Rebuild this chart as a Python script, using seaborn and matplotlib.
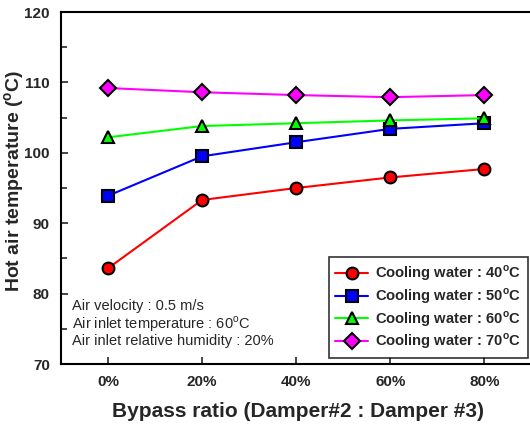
import matplotlib
matplotlib.use("Agg")
import matplotlib.pyplot as plt
import seaborn as sns
import pandas as pd
from matplotlib.ticker import MultipleLocator

# data
bypass = [0, 20, 40, 60, 80]
tick_labels = ["0%", "20%", "40%", "60%", "80%"]
cw40 = [83.6, 93.3, 95.0, 96.5, 97.7]
cw50 = [93.9, 99.5, 101.5, 103.4, 104.2]
cw60 = [102.2, 103.8, 104.2, 104.6, 104.9]
cw70 = [109.2, 108.6, 108.2, 107.9, 108.2]

series = {
    "Cooling water : 40$^\\mathbf{o}$C": cw40,
    "Cooling water : 50$^\\mathbf{o}$C": cw50,
    "Cooling water : 60$^\\mathbf{o}$C": cw60,
    "Cooling water : 70$^\\mathbf{o}$C": cw70,
}
colors = ["#ff0000", "#0000ff", "#00ff00", "#ff00ff"]
markers = ["o", "s", "^", "D"]
msizes = [8.5, 8, 8.5, 8]

rows = []
for name, vals in series.items():
    for b, v in zip(bypass, vals):
        rows.append({"Bypass": b, "Temp": v, "Series": name})
df = pd.DataFrame(rows)

sns.set_style("white")
plt.rcParams["font.family"] = ["Liberation Sans", "DejaVu Sans"]
plt.rcParams["mathtext.fontset"] = "custom"
plt.rcParams["mathtext.rm"] = "Liberation Sans"
plt.rcParams["mathtext.bf"] = "Liberation Sans:bold"

fig = plt.figure(figsize=(5.30, 4.28), dpi=100)
ax = fig.add_axes([61 / 530, 1 - 364 / 428, 475 / 530, 352 / 428])

for (name, vals), c, m, ms in zip(series.items(), colors, markers, msizes):
    sub = df[df["Series"] == name]
    sns.lineplot(data=sub, x="Bypass", y="Temp", ax=ax, color=c, marker=m,
                 markersize=ms, markeredgecolor="black",
                 markeredgewidth=1.5, linewidth=1.5, label=name)

ax.set_xlim(-10, 91)
ax.set_ylim(70, 120)
ax.set_xticks(bypass)
ax.set_xticklabels(tick_labels, fontweight="bold", fontsize=11)
ax.yaxis.set_major_locator(MultipleLocator(10))
ax.yaxis.set_minor_locator(MultipleLocator(5))
for lab in ax.get_yticklabels():
    lab.set_fontweight("bold")
    lab.set_fontsize(11)
ax.tick_params(axis="both", which="major", direction="in", length=5, width=1.2, pad=8)
ax.tick_params(axis="y", which="minor", direction="in", length=4, width=1.2, left=True)
ax.tick_params(axis="x", bottom=True)
ax.tick_params(axis="y", left=True)
for sp in ax.spines.values():
    sp.set_linewidth(1.5)
    sp.set_color("black")

ax.set_xlabel("Bypass ratio (Damper#2 : Damper #3)", fontweight="bold", fontsize=15, labelpad=9)
ax.set_ylabel("Hot air temperature ($^\\mathbf{o}$C)", fontweight="bold", fontsize=14)
ax.yaxis.set_label_coords(-0.071, 0.52)

ax.text(-7.7, 78.2, "Air velocity : 0.5 m/s", fontsize=10.5, va="center")
ax.text(-7.7, 75.7, "Air inlet temperature : 60$^\\mathrm{o}$C", fontsize=10.5, va="center")
ax.text(-7.7, 73.2, "Air inlet relative humidity : 20%", fontsize=10.5, va="center")

leg = ax.legend(loc="lower right", bbox_to_anchor=(0.983, 0.017), borderaxespad=0,
                frameon=True, fancybox=False, edgecolor="black", fontsize=10.6,
                handlelength=2.2, borderpad=0.45, labelspacing=0.2, handletextpad=0.5)
leg.get_frame().set_linewidth(1.2)
for t in leg.get_texts():
    t.set_fontweight("bold")

fig.savefig("out.png", dpi=100)
